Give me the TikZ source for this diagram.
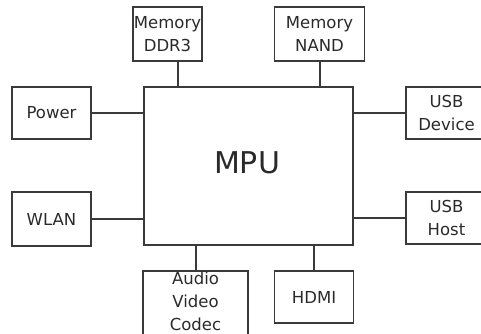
\documentclass[tikz,border=0pt]{standalone}
\usepackage{fontspec}
\setmainfont{DejaVu Sans}
\definecolor{ln}{HTML}{3A3A3A}
\definecolor{tx}{HTML}{2A2A2A}
\begin{document}
\begin{tikzpicture}[x=1pt,y=-1pt,
  box/.style={draw=ln,line width=1.2pt,rectangle,inner sep=0pt,align=center,text=tx,
    font=\fontsize{16.5}{23}\selectfont},
  wire/.style={draw=ln,line width=1.2pt}]
\useasboundingbox (0,0) rectangle (481,334);
\node[box,minimum width=69pt,minimum height=54pt] (ddr) at (167.5,34) {Memory\\DDR3};
\node[box,minimum width=90pt,minimum height=54pt] (nand) at (319.5,34) {Memory\\NAND};
\node[box,minimum width=209pt,minimum height=158pt] (mpu) at (248.5,166) {};
\node[text=tx,font=\fontsize{30}{34}\selectfont] (mpul) at (247,163) {MPU};
\node[box,minimum width=79pt,minimum height=52pt] (pow) at (51.5,113) {Power};
\node[box,minimum width=81pt,minimum height=52pt] (usbd) at (446.5,113) {USB\\Device};
\node[box,minimum width=79pt,minimum height=54pt] (wlan) at (51.5,219) {WLAN};
\node[box,minimum width=81pt,minimum height=52pt] (usbh) at (446.5,218) {USB\\Host};
\node[box,minimum width=105pt,minimum height=70pt,text depth=9.5pt] (avc) at (195.5,306) {Audio\\Video\\Codec};
\node[box,minimum width=79pt,minimum height=52pt] (hdmi) at (314,297) {HDMI};
\draw[wire] (ddr.south -| 178,0) -- (mpu.north -| 178,0);
\draw[wire] (nand.south -| 320,0) -- (mpu.north -| 320,0);
\draw[wire] (pow.east) -- (pow.east -| mpu.west);
\draw[wire] (usbd.west) -- (usbd.west -| mpu.east);
\draw[wire] (wlan.east) -- (wlan.east -| mpu.west);
\draw[wire] (usbh.west) -- (usbh.west -| mpu.east);
\draw[wire] (avc.north -| 196,0) -- (mpu.south -| 196,0);
\draw[wire] (hdmi.north) -- (hdmi.north |- mpu.south);
\end{tikzpicture}
\end{document}
